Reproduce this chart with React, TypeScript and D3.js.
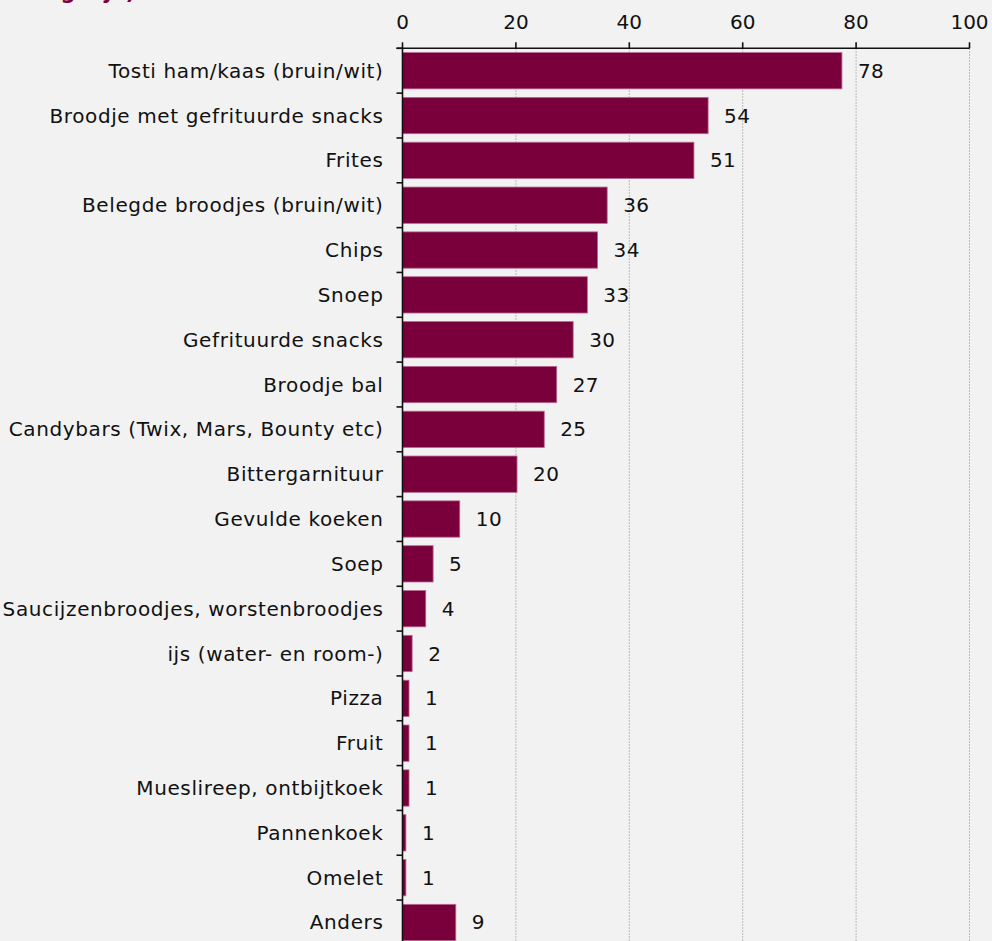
import React from "react";
import * as d3 from "d3";

const categories = [
  "Tosti ham/kaas (bruin/wit)",
  "Broodje met gefrituurde snacks",
  "Frites",
  "Belegde broodjes (bruin/wit)",
  "Chips",
  "Snoep",
  "Gefrituurde snacks",
  "Broodje bal",
  "Candybars (Twix, Mars, Bounty etc)",
  "Bittergarnituur",
  "Gevulde koeken",
  "Soep",
  "Saucijzenbroodjes, worstenbroodjes",
  "ijs (water- en room-)",
  "Pizza",
  "Fruit",
  "Mueslireep, ontbijtkoek",
  "Pannenkoek",
  "Omelet",
  "Anders",
];

const values = [77.5, 53.9, 51.4, 36.1, 34.4, 32.6, 30.1, 27.2, 25.0, 20.2, 10.1, 5.4, 4.1, 1.7, 1.15, 1.15, 1.15, 0.6, 0.6, 9.4];
const valueLabels = ["78", "54", "51", "36", "34", "33", "30", "27", "25", "20", "10", "5", "4", "2", "1", "1", "1", "1", "1", "9"];
const xTicks = [0, 20, 40, 60, 80, 100];
const titleText = "(meerdere antwoorden mogelijk)";

const W = 992;
const H = 941;
const FONT = "'DejaVu Sans', Verdana, sans-serif";

export default function App() {
  const left = 402.5;
  const right = 969.5;
  const top = 48.3;
  const step = 44.83;
  const bottom = top + step * categories.length;

  const x = d3.scaleLinear().domain([0, 100]).range([left, right]);
  const y = d3
    .scaleBand<string>()
    .domain(categories)
    .range([top, bottom])
    .paddingInner(0.19)
    .paddingOuter(0.095);

  const boundaries = d3.range(categories.length + 1).map((i) => top + i * y.step());

  return (
    <svg
      width={W}
      height={H}
      style={{ position: "absolute", left: 0, top: 0, background: "#f2f2f2" }}
      fontFamily={FONT}
    >
      <rect x={0} y={0} width={W} height={H} fill="#f2f2f2" />
      <text x={135} y={-1} textAnchor="end" fontSize={21} fontWeight="bold" fill="#7a003c">
        {titleText}
      </text>

      {/* gridlines */}
      {xTicks
        .filter((t) => t > 0)
        .map((t) => (
          <line
            key={"g" + t}
            x1={x(t)}
            x2={x(t)}
            y1={top}
            y2={H}
            stroke="#a8a8a8"
            strokeWidth={1}
            strokeDasharray="1.5,1.5"
          />
        ))}

      {/* bars */}
      {categories.map((c, i) => (
        <rect
          key={c}
          x={x(0)}
          y={y(c)}
          width={x(values[i]) - x(0)}
          height={y.bandwidth()}
          fill="#7a003c"
          stroke="#b86a93"
          strokeWidth={0.8}
        />
      ))}

      {/* value labels */}
      {categories.map((c, i) => (
        <text
          key={"v" + c}
          x={x(values[i]) + 16}
          y={(y(c) as number) + y.bandwidth() / 2}
          dominantBaseline="central"
          fontSize={20}
          letterSpacing={0.4}
          fill="#111"
        >
          {valueLabels[i]}
        </text>
      ))}

      {/* top axis */}
      <line x1={x(0) - 6} x2={x(100)} y1={top} y2={top} stroke="#111" strokeWidth={1.6} />
      {xTicks.map((t) => (
        <g key={"t" + t}>
          <line x1={x(t)} x2={x(t)} y1={top - 6} y2={top} stroke="#111" strokeWidth={1.6} />
          <text x={x(t)} y={29.3} textAnchor="middle" fontSize={20} fill="#111">
            {t}
          </text>
        </g>
      ))}

      {/* left axis */}
      <line x1={x(0)} x2={x(0)} y1={top} y2={H} stroke="#111" strokeWidth={1.6} />
      {boundaries.map((b, i) => (
        <line key={"b" + i} x1={x(0) - 6} x2={x(0)} y1={b} y2={b} stroke="#111" strokeWidth={1.6} />
      ))}
      {categories.map((c) => (
        <text
          key={"c" + c}
          x={x(0) - 19}
          y={(y(c) as number) + y.bandwidth() / 2}
          textAnchor="end"
          dominantBaseline="central"
          fontSize={20}
          letterSpacing={0.62}
          fill="#111"
        >
          {c}
        </text>
      ))}
    </svg>
  );
}
